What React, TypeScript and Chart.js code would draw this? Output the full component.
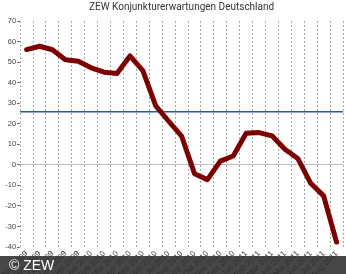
import React, { useEffect, useRef } from "react";
import { Chart, registerables } from "chart.js";

Chart.register(...registerables);

const title = "ZEW Konjunkturerwartungen Deutschland";
const categories = [
  "Aug 2009", "Sep 2009", "Okt 2009", "Nov 2009", "Dez 2009",
  "Jan 2010", "Feb 2010", "Mär 2010", "Apr 2010", "Mai 2010", "Jun 2010", "Jul 2010",
  "Aug 2010", "Sep 2010", "Okt 2010", "Nov 2010", "Dez 2010",
  "Jan 2011", "Feb 2011", "Mär 2011", "Apr 2011", "Mai 2011", "Jun 2011", "Jul 2011", "Aug 2011",
];
const sentiment = [
  56.1, 57.7, 56.0, 51.1, 50.4, 47.2, 45.1, 44.5, 53.0, 45.8, 28.7, 21.2,
  14.0, -4.3, -7.2, 1.8, 4.3, 15.4, 15.7, 14.1, 7.6, 3.1, -9.0, -15.1, -37.6,
];
const longTermAverage = [25.8];
const yMin = -40;
const yMax = 70;
const yStep = 10;

const refLinePlugin = {
  id: "refLine",
  beforeDatasetsDraw(chart: any) {
    const { ctx, chartArea, scales } = chart;
    ctx.save();
    ctx.strokeStyle = "#1a5db4";
    ctx.lineWidth = 1.6;
    for (const v of longTermAverage) {
      const y = scales.y.getPixelForValue(v);
      ctx.beginPath();
      ctx.moveTo(chartArea.left, y);
      ctx.lineTo(chartArea.right, y);
      ctx.stroke();
    }
    ctx.restore();
  },
};

export default function App() {
  const ref = useRef<HTMLCanvasElement>(null);
  useEffect(() => {
    document.body.style.margin = "0";
    const chart = new Chart(ref.current!, {
      type: "line",
      data: {
        labels: categories,
        datasets: [
          {
            data: sentiment,
            borderColor: "#7d0000",
            borderWidth: 5,
            borderJoinStyle: "round",
            borderCapStyle: "round",
            pointRadius: 0,
            tension: 0,
            fill: false,
          },
        ],
      },
      options: {
        animation: false,
        responsive: false,
        maintainAspectRatio: false,
        layout: { padding: { left: 0, right: 3, top: 0, bottom: 0 } },
        plugins: {
          legend: { display: false },
          tooltip: { enabled: false },
          title: {
            display: true,
            text: title,
            color: "#333",
            font: { family: "Roboto", size: 10, weight: "normal" },
            padding: { top: 1, bottom: 8 },
            fullSize: false,
          },
        },
        scales: {
          x: {
            offset: true,
            grid: {
              offset: true,
              color: "#a8a8a8",
              lineWidth: 1,
              drawTicks: false,
            },
            border: { display: false, dash: [2, 2] },
            ticks: {
              autoSkip: false,
              minRotation: 45,
              maxRotation: 45,
              padding: 2,
              color: "#333",
              font: { family: "Liberation Sans", size: 8 },
            },
            afterFit(s: any) {
              s.height = 27;
            },
          },
          y: {
            min: yMin,
            max: yMax,
            grid: {
              color: (c: any) => (c.tick && c.tick.value === 0 ? "#bdbdbd" : "rgba(0,0,0,0)"),
              tickColor: "#666",
              tickLength: 3,
              lineWidth: 1,
            },
            border: { display: false },
            ticks: {
              stepSize: yStep,
              padding: 1,
              color: "#444",
              font: { family: "Liberation Sans", size: 7.5 },
            },
            afterFit(s: any) {
              s.width = 17;
            },
          },
        },
      },
      plugins: [refLinePlugin],
    } as any);
    return () => chart.destroy();
  }, []);
  return (
    <div style={{ position: "fixed", left: 0, top: 0, width: 346, height: 274, background: "#fff" }}>
      <canvas ref={ref} width={346} height={274} style={{ display: "block" }} />
      <div
        style={{
          position: "absolute",
          left: 0,
          top: 256,
          width: 346,
          height: 18,
          background: "rgba(45,45,45,0.88)",
          color: "#fff",
          fontFamily: "Liberation Sans",
          fontSize: 14,
          lineHeight: "18px",
          paddingLeft: 9,
          boxSizing: "border-box",
        }}
      >
        © ZEW
      </div>
    </div>
  );
}
